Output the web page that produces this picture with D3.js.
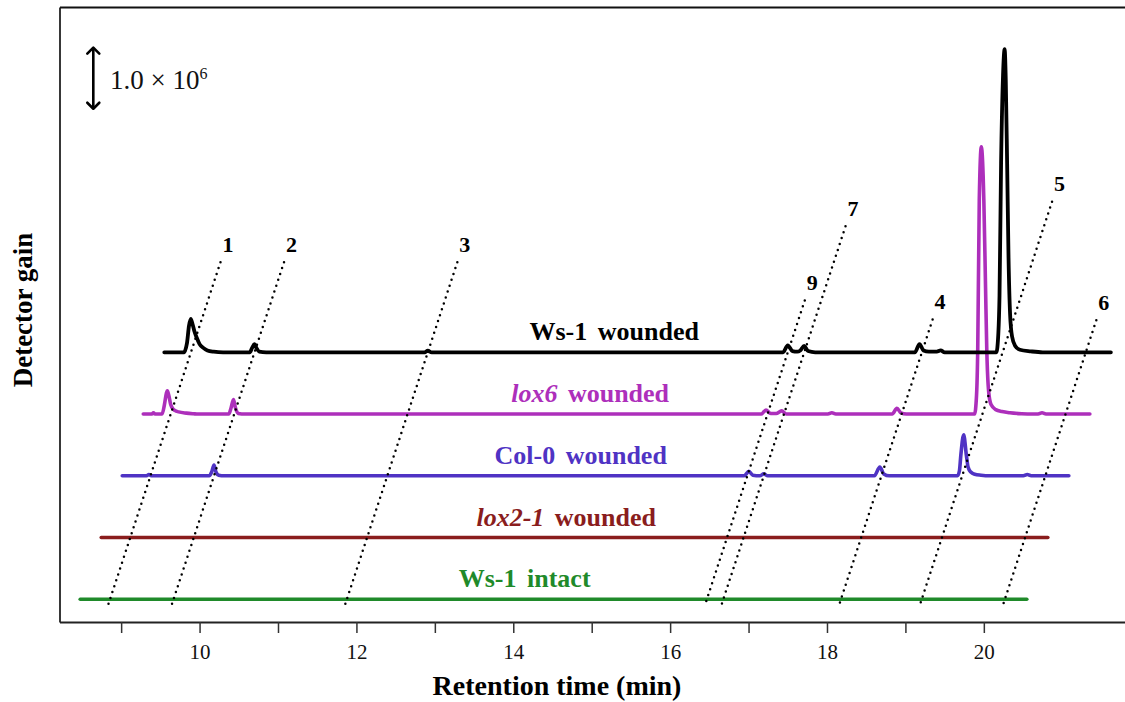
<!DOCTYPE html>
<html>
<head>
<meta charset="utf-8">
<script src="https://cdn.jsdelivr.net/npm/d3@7/dist/d3.min.js"></script>
<style>
  html, body { margin: 0; padding: 0; background: #fff; }
  svg { display: block; }
  text { font-family: "Liberation Serif", "Times New Roman", serif; }
</style>
</head>
<body>
<svg id="chart" width="1125" height="702"></svg>
<script>
// ---------------- data (retention time in min, signal in ×10^6 above each trace's own baseline) ----------------
const traceNames = ["Ws-1 wounded", "lox6 wounded", "Col-0 wounded", "lox2-1 wounded", "Ws-1 intact"];
const traceItalic = ["", "lox6", "", "lox2-1", ""];
const traceColors = ["#000000", "#ad2fbb", "#4f33c4", "#8a1d1d", "#1f8a2a"];

const wsWounded = [
  [9.55,0],[9.80,0],[9.84,0.15],[9.865,0.42],[9.888,0.53],[9.91,0.45],[9.935,0.33],[9.964,0.23],[10.0,0.13],
  [10.048,0.07],[10.1,0.03],[10.18,0.01],[10.3,0],
  [10.64,0],[10.67,0.07],[10.70,0.13],[10.725,0.07],[10.76,0.01],[10.85,0],
  [12.87,0],[12.91,0.025],[12.96,0],
  [17.44,0],[17.50,0.11],[17.56,0.02],[17.62,0.01],[17.66,0.03],[17.71,0.10],[17.76,0.02],[17.85,0],
  [19.12,0],[19.18,0.13],[19.23,0.03],[19.30,0.01],[19.40,0.01],[19.45,0.03],[19.50,0],
  [20.16,0],[20.185,0.3],[20.20,0.9],[20.22,3.0],[20.245,4.4],[20.265,4.81],[20.28,4.3],[20.297,3.0],
  [20.315,1.5],[20.335,0.6],[20.36,0.25],[20.40,0.1],[20.46,0.04],[20.6,0.015],[20.75,0],
  [21.62,0]
];
const lox6Wounded = [
  [9.55,0],[9.66,0],[9.68,0.02],[9.70,0],[9.79,0],[9.82,0.15],[9.845,0.33],[9.857,0.37],[9.875,0.3],[9.90,0.15],
  [9.93,0.08],[9.955,0.055],[10.0,0.035],[10.1,0.015],[10.19,0.005],[10.25,0],
  [10.64,0],[10.67,0.1],[10.70,0.23],[10.725,0.1],[10.76,0.01],[10.85,0],
  [17.43,0],[17.49,0.065],[17.55,0.01],[17.62,0.01],[17.69,0.05],[17.75,0],
  [18.28,0],[18.33,0.02],[18.38,0],
  [19.10,0],[19.16,0.09],[19.21,0.02],[19.28,0],
  [20.15,0],[20.175,0.3],[20.19,1.0],[20.21,3.4],[20.236,4.24],[20.268,3.4],[20.29,2.0],[20.306,1.0],
  [20.33,0.35],[20.36,0.15],[20.42,0.07],[20.5,0.04],[20.6,0.02],[20.75,0.005],[20.9,0],
  [20.96,0],[21.01,0.02],[21.06,0],[21.62,0]
];
const col0Wounded = [
  [9.55,0],[9.86,0],[9.89,0.02],[9.92,0],
  [10.66,0],[10.69,0.06],[10.72,0.17],[10.745,0.06],[10.78,0.01],[10.85,0],
  [17.48,0],[17.54,0.07],[17.59,0.01],[17.68,0],[17.73,0.03],[17.78,0],
  [19.14,0],[19.21,0.14],[19.26,0.03],[19.33,0],
  [20.20,0],[20.225,0.08],[20.243,0.33],[20.279,0.65],[20.313,0.33],[20.335,0.14],[20.37,0.06],[20.42,0.025],
  [20.5,0.01],[20.6,0],
  [21.04,0],[21.09,0.02],[21.14,0],[21.62,0]
];
const lox21Wounded = [[9.55,0],[21.62,0]];
const wsIntact = [[9.55,0],[21.62,0]];
const traceValues = [wsWounded, lox6Wounded, col0Wounded, lox21Wounded, wsIntact];

const compoundLabels = ["1", "2", "3", "9", "7", "4", "5", "6"];
const compoundRT = [9.89, 10.70, 12.91, 17.50, 17.71, 19.21, 20.24, 21.30];

const majorTicks = [10, 12, 14, 16, 18, 20];
const minorTicks = [9, 11, 13, 15, 17, 19];
const scaleBarValue = 1.0; // ×10^6

// ---------------- layout ----------------
const topBaseline = 4.28;   // ×10^6, baseline of first trace
const traceStep = 0.98;     // vertical offset between traces (×10^6)
const traceShift = 0.268;   // horizontal offset between traces (min)
const lineShift = 0.258;    // slant of dotted guide lines (min per trace step)
const compoundLabelLevel = [-1.63, -1.63, -1.63, -1.01, -2.21, -0.70, -2.61, -0.69];
const traceLabelCenter = [15.287, 14.98, 14.86, 14.675, 14.145];

const svg = d3.select("#chart");
const x = d3.scaleLinear().domain([8.214, 21.8]).range([59.5, 1125]);
const y = d3.scaleLinear().domain([0, 9.76]).range([622, 7]);

// frame: left and top
svg.append("g").attr("transform", `translate(${x(8.214)},0)`)
  .call(d3.axisLeft(y).tickValues([]).tickSizeOuter(0))
  .select(".domain").attr("stroke", "#222").attr("stroke-width", 1.8);
svg.append("g").attr("transform", `translate(0,${y(9.76)})`)
  .call(d3.axisTop(x).tickValues([]).tickSizeOuter(0))
  .select(".domain").attr("stroke", "#111").attr("stroke-width", 2);

// bottom axis
const xAxis = svg.append("g").attr("transform", `translate(0,${y(0)})`)
  .call(d3.axisBottom(x).tickValues(majorTicks.concat(minorTicks).sort((a,b)=>a-b))
    .tickSize(11).tickSizeOuter(0)
    .tickFormat(d => majorTicks.includes(d) ? d3.format("d")(d) : ""));
xAxis.select(".domain").attr("stroke", "#222").attr("stroke-width", 1.8);
xAxis.selectAll(".tick line").attr("stroke", "#333").attr("stroke-width", 1.5);
xAxis.selectAll(".tick text")
  .attr("y", 37).attr("dy", 0)
  .attr("fill", "#111")
  .style("font-family", "'Liberation Serif', serif")
  .style("font-size", "21px");

// traces
const line = d3.line().curve(d3.curveMonotoneX);
const order = [4, 3, 2, 1, 0];
order.forEach(k => {
  const base = topBaseline - k * traceStep;
  const pts = traceValues[k].map(([t, v]) => [x(t - k * traceShift), y(base + v)]);
  svg.append("path")
    .attr("d", line(pts))
    .attr("fill", "none")
    .attr("stroke", traceColors[k])
    .attr("stroke-width", k === 0 ? 3.8 : 3.6)
    .attr("stroke-linejoin", "round")
    .attr("stroke-linecap", "round");
});

// trace labels
traceNames.forEach((name, k) => {
  const base = topBaseline - k * traceStep;
  const t = svg.append("text")
    .attr("x", x(traceLabelCenter[k]))
    .attr("y", y(base) - 12)
    .attr("text-anchor", "middle")
    .attr("fill", traceColors[k])
    .style("font-size", "26px")
    .style("font-weight", "bold")
    .style("word-spacing", "4px");
  const it = traceItalic[k];
  if (it && name.startsWith(it)) {
    t.append("tspan").style("font-style", "italic").text(it);
    t.append("tspan").text(name.slice(it.length));
  } else {
    t.text(name);
  }
});

// dotted guide lines and compound numbers
const kBottom = 4.12;
compoundLabels.forEach((lab, i) => {
  const rt = compoundRT[i];
  const kTop = compoundLabelLevel[i] + 0.17;
  const p = k => [x(rt - k * lineShift), y(topBaseline - k * traceStep)];
  svg.append("path")
    .attr("d", d3.line()([p(kTop), p(kBottom)]))
    .attr("stroke", "#000")
    .attr("stroke-width", 2.5)
    .attr("stroke-linecap", "round")
    .attr("stroke-dasharray", "0 6.2")
    .attr("fill", "none");
  const lp = p(compoundLabelLevel[i]);
  svg.append("text")
    .attr("x", lp[0] + 4)
    .attr("y", lp[1])
    .attr("text-anchor", "middle")
    .attr("fill", "#000")
    .style("font-size", "22px")
    .style("font-weight", "bold")
    .text(lab);
});

// scale bar
const sbTop = 9.13;
const sbX = 93.3;
const y1 = y(sbTop), y2 = y(sbTop - scaleBarValue);
svg.append("line").attr("x1", sbX).attr("x2", sbX).attr("y1", y1 + 1).attr("y2", y2 - 1)
  .attr("stroke", "#000").attr("stroke-width", 2.6);
svg.append("path").attr("d", `M${sbX-6},${y1+7} L${sbX},${y1+1} L${sbX+6},${y1+7}`)
  .attr("fill", "none").attr("stroke", "#000").attr("stroke-width", 2.6).attr("stroke-linecap", "round").attr("stroke-linejoin", "round");
svg.append("path").attr("d", `M${sbX-6},${y2-7} L${sbX},${y2-1} L${sbX+6},${y2-7}`)
  .attr("fill", "none").attr("stroke", "#000").attr("stroke-width", 2.6).attr("stroke-linecap", "round").attr("stroke-linejoin", "round");
const sbt = svg.append("text").attr("x", 110).attr("y", 89).attr("fill", "#111").style("font-size", "27px");
sbt.append("tspan").text("1.0 \u00d7 10");
sbt.append("tspan").attr("dy", -10).style("font-size", "16px").text("6");

// axis titles
svg.append("text")
  .attr("x", 557).attr("y", 695)
  .attr("text-anchor", "middle")
  .style("font-size", "28px").style("font-weight", "bold")
  .text("Retention time (min)");
svg.append("text")
  .attr("transform", "translate(32,310) rotate(-90)")
  .attr("text-anchor", "middle")
  .style("font-size", "27px").style("font-weight", "bold")
  .text("Detector gain");
</script>
</body>
</html>
